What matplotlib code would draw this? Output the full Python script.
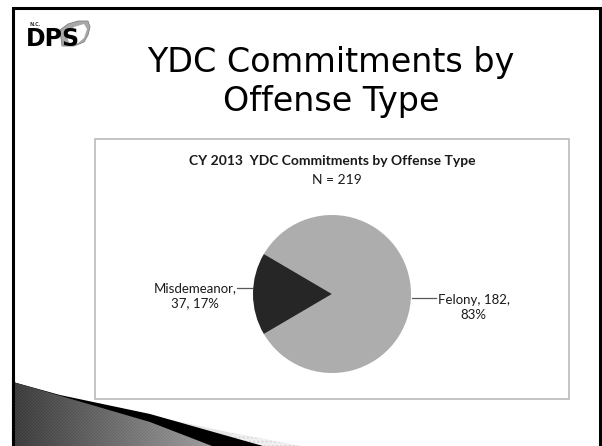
import numpy as np
import matplotlib
matplotlib.use("Agg")
import matplotlib.pyplot as plt
import matplotlib.patches as mpatches

# chart data
categories = ["Felony", "Misdemeanor"]
counts = [182, 37]
colors = ["#adadad", "#262626"]
slide_title = "YDC Commitments by\nOffense Type"
chart_title = "CY 2013  YDC Commitments by Offense Type"
total = sum(counts)

W, H = 602, 446
fig = plt.figure(figsize=(W / 100, H / 100), dpi=100)
fig.patch.set_facecolor("white")

# background / slide decoration axes in pixel coordinates
bg = fig.add_axes([0, 0, 1, 1])
bg.set_xlim(0, W)
bg.set_ylim(H, 0)
bg.axis("off")

# slide border
bg.plot([13, 13, 600, 600], [H, 8, 8, H], color="black", lw=2.2, solid_joinstyle="miter")

# bottom-left swoosh
bg.add_patch(mpatches.Polygon([(80, 400), (232, 433), (300, 446), (263, 446), (13, 446), (13, 382), (60, 396)],
                              closed=True, fc="#e6e6e6", ec="none"))
bg.add_patch(mpatches.Polygon([(232, 433), (300, 446), (232, 446)], closed=True,
                              fc="#f0f0f0", ec="#d8d8d8", hatch="....", lw=0))
bg.add_patch(mpatches.Polygon([(13, 382), (60, 395), (150, 414), (263, 446), (13, 446)],
                              closed=True, fc="black", ec="none"))
gray_poly = mpatches.Polygon([(13, 382), (150, 422), (212, 446), (13, 446)], closed=True,
                             fc="none", ec="none")
bg.add_patch(gray_poly)
xx, yy = np.meshgrid(np.arange(13, 215), np.arange(378, 446))
shade = 0.24 + 0.38 * (xx - 13) / 200 + 0.03 * np.sin(2 * np.pi * (xx + yy) / 3.0)
img = bg.imshow(shade, cmap="gray", vmin=0, vmax=1, extent=(13, 215, 446, 378),
                interpolation="nearest", aspect="auto", zorder=3)
img.set_clip_path(gray_poly)
bg.plot([13, 13], [378, H], color="black", lw=2.2, zorder=4)
bg.set_xlim(0, W)
bg.set_ylim(H, 0)

# DPS logo
bg.add_patch(mpatches.Polygon([(60, 30), (68, 24), (78, 21), (88, 21), (90, 27), (88, 35), (84, 42), (74, 46), (62, 46)],
                              closed=True, fc="#a8a8a8", ec="#808080", lw=0.6))
bg.add_patch(mpatches.Polygon([(66, 34), (74, 27), (84, 24), (87, 29), (84, 38), (78, 43), (70, 45)],
                              closed=True, fc="white", ec="none"))
bg.text(26, 46, "DPS", fontsize=17, fontweight="heavy", family="DejaVu Sans", color="black",
        va="baseline", ha="left")
bg.text(29, 26, "N.C.", fontsize=3.5, fontweight="bold", color="#333333", va="baseline", ha="left")

# slide title
bg.text(331, 82, slide_title, fontsize=24, family="DejaVu Sans", color="black",
        ha="center", va="center", linespacing=1.2)

# chart box
bg.add_patch(mpatches.Rectangle((95, 139), 474, 260, fc="white", ec="#bfbfbf", lw=1.3))
bg.text(332, 161, chart_title, fontsize=10, fontweight="bold", family="Lato",
        ha="center", va="center", color="#1a1a1a")
bg.text(337, 180, f"N = {total}", fontsize=10, family="Lato",
        ha="center", va="center", color="#1a1a1a")

# pie
cx, cy, r = 332, 294, 79
ax = fig.add_axes([(cx - r) / W, 1 - (cy + r) / H, 2 * r / W, 2 * r / H])
start = 180 + 180 * counts[1] / total
wedges, _ = ax.pie(counts, colors=colors, startangle=start, counterclock=True, radius=1,
                   wedgeprops=dict(linewidth=0))
ax.set_xlim(-1, 1)
ax.set_ylim(-1, 1)
ax.set_aspect("equal")
ax.axis("off")

label_cfg = {
    "Misdemeanor": dict(line_y=0.08, x_end=-1.2, ha="right", text_x=-1.2, text_y=-0.02,
                        fmt="{name},\n{n}, {pct}%"),
    "Felony": dict(line_y=-0.05, x_end=1.32, ha="left", text_x=1.33, text_y=-0.17,
                   fmt="{name}, {n},\n{pct}%"),
}
for w, name, n in zip(wedges, categories, counts):
    mid = np.deg2rad((w.theta1 + w.theta2) / 2)
    cfg = label_cfg[name]
    side = np.sign(np.cos(mid))
    x0 = np.cos(mid) + 0.01 * side
    ax.plot([x0, cfg["x_end"]], [cfg["line_y"], cfg["line_y"]], color="#595959", lw=0.9,
            clip_on=False)
    pct = round(100 * n / total)
    ax.text(cfg["text_x"] + 0.01 * side, cfg["text_y"], cfg["fmt"].format(name=name, n=n, pct=pct),
            fontsize=9.5, family="Lato", ha=cfg["ha"], va="center", multialignment="center",
            color="#1a1a1a", clip_on=False, linespacing=1.25)

fig.savefig("out.png", dpi=100)
